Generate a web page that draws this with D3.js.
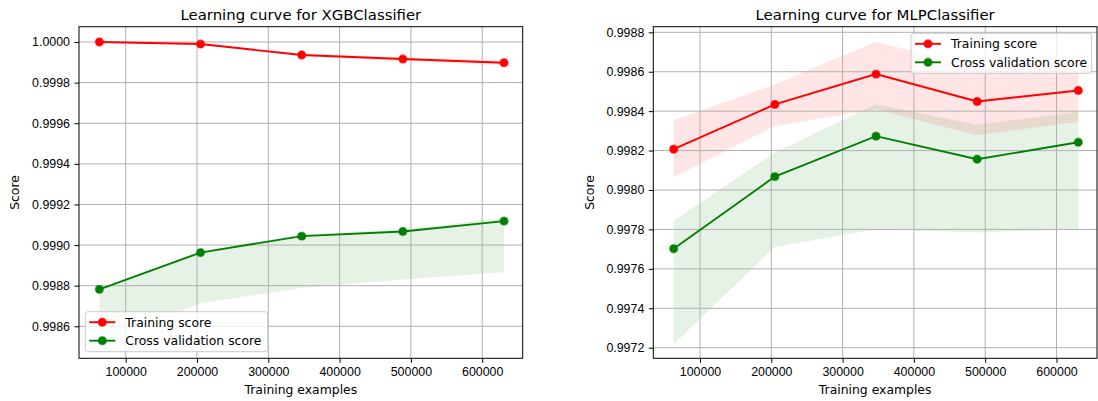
<!DOCTYPE html>
<html>
<head>
<meta charset="utf-8">
<script src="https://cdn.jsdelivr.net/npm/d3@7"></script>
<style>
  body { margin: 0; background: #fff; }
  svg { display: block; font-family: "DejaVu Sans", sans-serif; }
  .axis text { font-size: 12.4px; fill: #000; }
  .axis path, .axis line { stroke: #000; stroke-width: 1; }
  .grid line { stroke: #b0b0b0; stroke-width: 1; }
</style>
</head>
<body>
<div id="chart"></div>
<script>
(function(){
    const width = 1098;
    const height = 401;

    // training set sizes (same for both models)
    const trainSizes = [63060, 204945, 346830, 488715, 630600];
    const xTicks = [100000, 200000, 300000, 400000, 500000, 600000];

    // XGBClassifier
    const xgbTrainMean = [1.000000, 0.999990, 0.999936, 0.999916, 0.999898];
    const xgbTrainLow  = [0.999999, 0.999987, 0.999929, 0.999907, 0.999887];
    const xgbTrainHigh = [1.000001, 0.999993, 0.999943, 0.999925, 0.999909];
    const xgbCvMean = [0.998782, 0.998963, 0.999044, 0.999067, 0.999118];
    const xgbCvLow  = [0.998510, 0.998713, 0.998789, 0.998830, 0.998866];
    const xgbCvHigh = [0.998786, 0.998968, 0.999052, 0.999078, 0.999135];
    const xgbTicks = [0.9986, 0.9988, 0.9990, 0.9992, 0.9994, 0.9996, 0.9998, 1.0000];

    // MLPClassifier
    const mlpTrainMean = [0.998207, 0.998434, 0.998588, 0.998449, 0.998505];
    const mlpTrainLow  = [0.998066, 0.998325, 0.998409, 0.998278, 0.998346];
    const mlpTrainHigh = [0.998354, 0.998536, 0.998752, 0.998620, 0.998664];
    const mlpCvMean = [0.997702, 0.998068, 0.998273, 0.998156, 0.998242];
    const mlpCvLow  = [0.997217, 0.997712, 0.997800, 0.997785, 0.997800];
    const mlpCvHigh = [0.997844, 0.998190, 0.998435, 0.998331, 0.998396];
    const mlpTicks = [0.9972, 0.9974, 0.9976, 0.9978, 0.9980, 0.9982, 0.9984, 0.9986, 0.9988];

    const svg = d3.select("#chart").append("svg")
        .attr("width", width)
        .attr("height", height);

    function drawPanel(cfg) {
        const x = d3.scaleLinear().domain(cfg.xDomain).range([cfg.left, cfg.right]);
        const y = d3.scaleLinear().domain(cfg.yDomain).range([cfg.bottom, cfg.top]);
        const g = svg.append("g");

        const clipId = "clip-" + cfg.id;
        g.append("clipPath").attr("id", clipId)
            .append("rect")
            .attr("x", cfg.left).attr("y", cfg.top)
            .attr("width", cfg.right - cfg.left).attr("height", cfg.bottom - cfg.top);

        const plot = g.append("g").attr("clip-path", `url(#${clipId})`);

        // bands (below grid)
        const area = (lo, hi) => d3.area()
            .x((d, i) => x(trainSizes[i]))
            .y0((d, i) => y(lo[i]))
            .y1((d, i) => y(hi[i]))(trainSizes);
        plot.append("path").attr("d", area(cfg.trainLow, cfg.trainHigh))
            .attr("fill", "rgba(255,0,0,0.1)");
        plot.append("path").attr("d", area(cfg.cvLow, cfg.cvHigh))
            .attr("fill", "rgba(0,128,0,0.1)");

        // grid
        const grid = plot.append("g").attr("class", "grid");
        grid.selectAll("line.vx").data(xTicks).join("line")
            .attr("x1", d => x(d)).attr("x2", d => x(d))
            .attr("y1", cfg.top).attr("y2", cfg.bottom);
        grid.selectAll("line.hy").data(cfg.yTicks).join("line")
            .attr("x1", cfg.left).attr("x2", cfg.right)
            .attr("y1", d => y(d)).attr("y2", d => y(d));

        // lines + markers
        const line = vals => d3.line()
            .x((d, i) => x(trainSizes[i]))
            .y((d, i) => y(vals[i]))(trainSizes);
        [[cfg.trainMean, "#ff0000"], [cfg.cvMean, "#008000"]].forEach(([vals, col]) => {
            plot.append("path").attr("d", line(vals))
                .attr("fill", "none").attr("stroke", col).attr("stroke-width", 1.9);
            plot.append("g").selectAll("circle").data(vals).join("circle")
                .attr("cx", (d, i) => x(trainSizes[i]))
                .attr("cy", d => y(d))
                .attr("r", 3.9)
                .attr("fill", col)
                .attr("stroke", col)
                .attr("stroke-opacity", 0.55)
                .attr("stroke-width", 1.6);
        });

        // axes
        g.append("g").attr("class", "axis")
            .attr("transform", `translate(0,${cfg.bottom})`)
            .call(d3.axisBottom(x).tickValues(xTicks).tickFormat(d3.format("d"))
                .tickSize(4.5).tickPadding(4.5).tickSizeOuter(0))
            .call(a => a.select(".domain").remove());
        g.append("g").attr("class", "axis")
            .attr("transform", `translate(${cfg.left},0)`)
            .call(d3.axisLeft(y).tickValues(cfg.yTicks).tickFormat(d3.format(".4f"))
                .tickSize(4.5).tickPadding(4.5).tickSizeOuter(0))
            .call(a => a.select(".domain").remove());

        // frame
        g.append("rect")
            .attr("x", cfg.left).attr("y", cfg.top)
            .attr("width", cfg.right - cfg.left).attr("height", cfg.bottom - cfg.top)
            .attr("fill", "none").attr("stroke", "#000").attr("stroke-width", 1);

        // title and labels
        g.append("text")
            .attr("x", (cfg.left + cfg.right) / 2).attr("y", 20)
            .attr("text-anchor", "middle").attr("font-size", 14.9)
            .text(cfg.title);
        g.append("text")
            .attr("x", (cfg.left + cfg.right) / 2).attr("y", 394)
            .attr("text-anchor", "middle").attr("font-size", 12.4)
            .text("Training examples");
        g.append("text")
            .attr("transform", `translate(${cfg.yLabelX},${(cfg.top + cfg.bottom) / 2}) rotate(-90)`)
            .attr("text-anchor", "middle").attr("font-size", 12.4)
            .text("Score");

        // legend
        const lg = g.append("g").attr("transform", `translate(${cfg.legendX},${cfg.legendY})`);
        lg.append("rect")
            .attr("width", cfg.legendW).attr("height", 40)
            .attr("rx", 2.5).attr("ry", 2.5)
            .attr("fill", "rgba(255,255,255,0.8)")
            .attr("stroke", "#cccccc").attr("stroke-width", 1);
        const items = [["Training score", "#ff0000"], ["Cross validation score", "#008000"]];
        items.forEach(([label, col], i) => {
            const yy = 10.5 + i * 18.5;
            lg.append("line")
                .attr("x1", 4).attr("x2", 30).attr("y1", yy).attr("y2", yy)
                .attr("stroke", col).attr("stroke-width", 1.9);
            lg.append("circle").attr("cx", 17).attr("cy", yy).attr("r", 3.9)
                .attr("fill", col).attr("stroke", col)
                .attr("stroke-opacity", 0.55).attr("stroke-width", 1.6);
            lg.append("text").attr("x", 40).attr("y", yy + 4.4)
                .attr("font-size", 12.4).text(label);
        });
    }

    drawPanel({
        id: "xgb", title: "Learning curve for XGBClassifier",
        left: 79, right: 522.7, top: 26.7, bottom: 358.3,
        xDomain: [34500, 656800], yDomain: [0.9984424, 1.0000754],
        yTicks: xgbTicks, yLabelX: 19,
        trainMean: xgbTrainMean, trainLow: xgbTrainLow, trainHigh: xgbTrainHigh,
        cvMean: xgbCvMean, cvLow: xgbCvLow, cvHigh: xgbCvHigh,
        legendX: 85.3, legendY: 311.7, legendW: 182.4
    });

    drawPanel({
        id: "mlp", title: "Learning curve for MLPClassifier",
        left: 653.3, right: 1097, top: 26.7, bottom: 358.3,
        xDomain: [34500, 656800], yDomain: [0.9971462, 0.9988284],
        yTicks: mlpTicks, yLabelX: 594,
        trainMean: mlpTrainMean, trainLow: mlpTrainLow, trainHigh: mlpTrainHigh,
        cvMean: mlpCvMean, cvLow: mlpCvLow, cvHigh: mlpCvHigh,
        legendX: 911, legendY: 33.3, legendW: 180.7
    });
})();
</script>
</body>
</html>
